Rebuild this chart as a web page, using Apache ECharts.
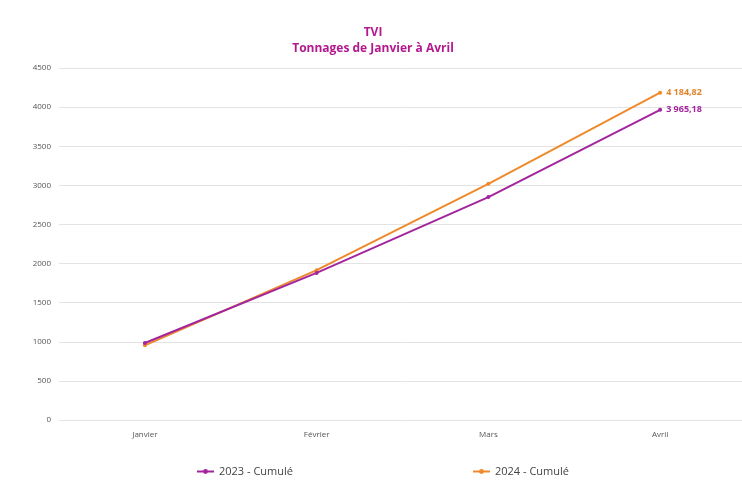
<!DOCTYPE html>
<html><head><meta charset="utf-8">
<script src="https://cdn.jsdelivr.net/npm/echarts@6/dist/echarts.min.js"></script>
<style>html,body{margin:0;padding:0;background:#fff;overflow:hidden}#c{width:746px;height:489px}</style>
</head><body><div id="c"></div>
<script>
const months = ['Janvier', 'Février', 'Mars', 'Avril'];
const cum2023 = [985, 1880, 2850, 3965.18];
const cum2024 = [955, 1915, 3020, 4184.82];
const yTicks = [0, 500, 1000, 1500, 2000, 2500, 3000, 3500, 4000, 4500];

const fmt = v => {
  const s = v.toFixed(2).split('.');
  return s[0].replace(/\B(?=(\d{3})+(?!\d))/g, ' ') + ',' + s[1];
};
const lastLabel = (color) => ({
  show: true, position: 'right', distance: 4,
  color: color, fontSize: 9, fontWeight: 'bold', fontFamily: 'Open Sans',
  formatter: p => p.dataIndex === months.length - 1 ? fmt(p.value) : ''
});

const chart = echarts.init(document.getElementById('c'));
chart.setOption({
  animation: false,
  title: {
    text: 'TVI\nTonnages de Janvier à Avril',
    left: 'center', top: 20,
    textStyle: { color: '#b3198f', fontSize: 12, fontWeight: 'bold', fontFamily: 'Open Sans', lineHeight: 16 }
  },
  legend: {
    bottom: 7, left: 191, itemGap: 179, itemWidth: 17, itemHeight: 6,
    textStyle: { color: '#444', fontSize: 11, fontFamily: 'Open Sans' },
    data: ['2023 - Cumulé', '2024 - Cumulé']
  },
  grid: { left: 59, right: 0, top: 68, bottom: 69 },
  xAxis: {
    type: 'category', data: months, boundaryGap: true,
    axisLine: { show: false }, axisTick: { show: false },
    axisLabel: { color: '#555', fontSize: 8, fontFamily: 'Open Sans', margin: 11 }
  },
  yAxis: {
    type: 'value', min: yTicks[0], max: yTicks[yTicks.length - 1], interval: 500,
    axisLine: { show: false }, axisTick: { show: false },
    axisLabel: { color: '#555', fontSize: 8, fontFamily: 'Open Sans', margin: 8, formatter: v => String(v) },
    splitLine: { lineStyle: { color: '#e3e3e3', width: 1 } }
  },
  series: [
    {
      name: '2023 - Cumulé', type: 'line', data: cum2023,
      color: '#a3259d', symbol: 'circle', symbolSize: 4,
      lineStyle: { width: 2 }, label: lastLabel('#a3259d'), z: 3
    },
    {
      name: '2024 - Cumulé', type: 'line', data: cum2024,
      color: '#ee8a2c', symbol: 'circle', symbolSize: 4,
      lineStyle: { width: 2 }, label: lastLabel('#e0852c'), z: 2
    }
  ]
});
</script></body></html>
